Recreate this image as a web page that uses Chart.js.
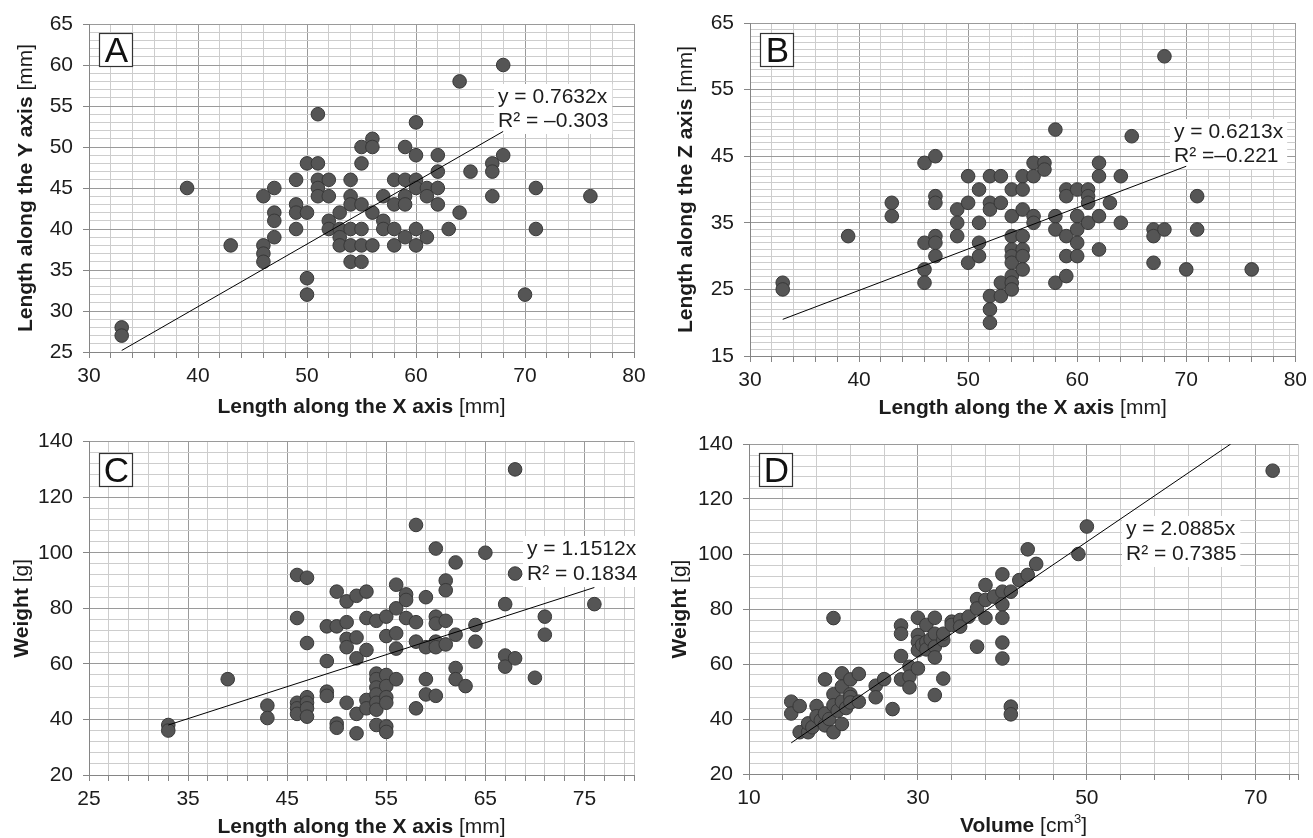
<!DOCTYPE html>
<html><head><meta charset="utf-8">
<script src="https://cdn.jsdelivr.net/npm/chart.js@4.4.1/dist/chart.umd.min.js"></script>
<style>
html,body{margin:0;padding:0;background:#fff;}
#wrap{position:relative;width:1313px;height:838px;overflow:hidden;background:#fff}
.pan{position:absolute}
canvas{display:block}
</style></head><body>
<div id="wrap">
<div class="pan" style="left:0;top:0;"><canvas id="cA" width="656" height="419"></canvas></div>
<div class="pan" style="left:656px;top:0;"><canvas id="cB" width="657" height="419"></canvas></div>
<div class="pan" style="left:0;top:419px;"><canvas id="cC" width="656" height="419"></canvas></div>
<div class="pan" style="left:656px;top:419px;"><canvas id="cD" width="657" height="419"></canvas></div>
</div>
<script>
const FONT = '"Liberation Sans", Arial, Helvetica, sans-serif';

// ---------- Panel A: X length vs Y length ----------
const aX = [33,33,39,43,46,46,46,46,47,47,47,47,49,49,49,49,50,50,50,50,51,51,51,51,51,52,52,52,52,53,53,53,53,54,54,54,54,54,54,55,55,55,55,55,55,56,56,56,56,57,57,57,58,58,58,58,59,59,59,59,59,60,60,60,60,60,60,61,61,61,62,62,62,62,63,64,64,65,67,67,67,68,68,70,71,71,76];
const aY = [28,27,45,38,44,38,37,36,45,42,41,39,46,43,42,40,48,42,34,32,54,48,46,45,44,46,44,41,40,42,40,39,38,46,44,43,40,38,36,50,48,43,40,38,36,51,50,42,38,44,41,40,46,43,40,38,50,46,44,43,39,53,49,46,45,40,38,45,44,39,49,47,45,43,40,58,42,47,48,47,44,60,49,32,45,40,44];
const aSlope = 0.7632;
const aTrendX = [33, 68];
const aEq = ['y = 0.7632x', 'R\u00B2 = \u20130.303'];
const aXLabels = [30,40,50,60,70,80];
const aYLabels = [25,30,35,40,45,50,55,60,65];

// ---------- Panel B: X length vs Z length ----------
const bX = [33,33,39,43,43,46,46,46,46,47,47,47,47,47,47,49,49,49,50,50,50,51,51,51,51,52,52,52,52,52,52,53,53,53,53,54,54,54,54,54,54,54,54,54,55,55,55,55,55,55,55,56,56,56,56,57,57,58,58,58,58,59,59,59,59,59,60,60,60,60,60,61,61,61,61,62,62,62,62,63,64,64,65,67,67,67,68,68,70,71,71,76];
const bZ = [26,25,33,38,36,44,32,28,26,45,39,38,33,32,30,37,35,33,42,38,29,40,35,32,30,42,38,37,24,22,20,42,38,26,24,40,36,33,31,30,29,27,26,25,42,40,37,33,31,30,28,44,42,36,35,44,43,49,36,34,26,40,39,33,30,27,40,36,34,32,30,40,39,38,35,44,42,36,31,38,42,35,48,34,33,29,60,34,28,39,34,28];
const bSlope = 0.6213;
const bTrendX = [33, 70];
const bEq = ['y = 0.6213x', 'R\u00B2 =\u20130.221'];
const bXLabels = [30,40,50,60,70,80];
const bYLabels = [15,25,35,45,55,65];

// ---------- Panel C: X length vs weight ----------
const cX = [33,33,39,43,43,46,46,46,46,46,47,47,47,47,47,47,49,49,49,49,50,50,50,50,51,51,51,51,51,52,52,52,52,52,53,53,53,53,53,54,54,54,54,54,54,54,54,55,55,55,55,55,55,55,55,56,56,56,56,56,57,57,57,58,58,58,58,59,59,59,59,60,60,60,60,60,60,61,61,61,61,62,62,62,62,63,64,64,65,67,67,67,68,68,68,70,71,71,76];
const cW = [38,36,54.5,45,40.5,92,76.5,46,44,42,91,67.5,48,46,44,41,73.5,61,50,48.5,86,73.5,38.5,37,82.5,75,69,66,46,84.5,69.5,62,42,35,86,76.5,65,47,44,75.5,56.5,54.5,51.5,49,46,43.5,38,77,70,56,52,48,46,37.5,35.5,88.5,80,71,65.5,54.5,85,83,76.5,110,75,68,44,84,66,54.5,49,101.5,77,74.5,68,66,48.5,90,86.5,75.5,67,96.5,70.5,58.5,54.5,52,74,68,100,81.5,63,59,130,92.5,62,55,77,70.5,81.5];
const cSlope = 1.1512;
const cTrendX = [33, 76];
const cEq = ['y = 1.1512x', 'R\u00B2 = 0.1834'];
const cXLabels = [25,35,45,55,65,75];
const cYLabels = [20,40,60,80,100,120,140];

// ---------- Panel D: volume vs weight ----------
const dV = [15,15,16,16,17,17,17.5,18,18,18.5,19,19,19,19.5,20,20,20,20,20.5,21,21,21,21,21.5,22,22,22,22,23,23,25,25,26,27,28,28,28,28,29,29,29,30,30,30,30,30,30.5,31,31,31,31.5,32,32,32,32,32,33,33,33,34,34,35,35,36,37,37,37,38,38,38,39,40,40,40,40,40,40,41,41,41,42,43,43,44,49,50,72];
const dW = [46.3,42,44.7,35.2,35.2,38.4,37,44.7,41,39.5,42,37.7,54.4,40,76.7,49,45,35.2,43,56.6,51.8,46.3,38.2,44,54.4,49,48,46,56.4,46.3,52.1,47.9,54.5,43.6,74,71,62.9,54.4,59,55.4,51.5,76.8,70.5,68,65,58.4,67,74.2,68,65.3,69,76.8,71,66.3,62.4,48.7,68.7,71,54.7,75.4,74.2,76,73.6,77.2,83.6,80.2,66.3,88.7,83.3,76.8,84.5,92.6,86.3,81.7,76.8,67.8,62,86.3,44.5,41.7,90.5,101.7,92.4,96.4,100,110,130.3];
const dSlope = 2.0885;
const dTrendX = [15, 140 / 2.0885];
const dEq = ['y = 2.0885x', 'R\u00B2 = 0.7385'];
const dXLabels = [10,30,50,70];
const dYLabels = [20,40,60,80,100,120,140];

const MAJ = '#9a9a9a';
const MIN = '#cdcdcd';
const AXC = '#858585';
const TXT = '#1c1c1c';
const FS = 21;

function steps(a, b, s) {
  const t = [];
  for (let v = a; v <= b + 1e-9; v += s) t.push(Math.round(v * 1000) / 1000);
  if (t[t.length - 1] < b) t.push(b);
  return t;
}

function drawSegs(ctx, segs, cx, cy, rotate, size) {
  ctx.save();
  ctx.translate(cx, cy);
  if (rotate) ctx.rotate(-Math.PI / 2);
  const fontOf = s => (s.bold ? 'bold ' : '') + (s.sup ? Math.round(size * 0.62) : size) + 'px ' + FONT;
  let total = 0;
  segs.forEach(s => { ctx.font = fontOf(s); s.w = ctx.measureText(s.t).width; total += s.w; });
  let x = -total / 2;
  ctx.textBaseline = 'middle'; ctx.textAlign = 'left'; ctx.fillStyle = TXT;
  segs.forEach(s => { ctx.font = fontOf(s); ctx.fillText(s.t, x, s.sup ? -7 : 0); x += s.w; });
  ctx.restore();
}

function makePanel(cfg) {
  const canvas = document.getElementById(cfg.id);
  const W = canvas.width, H = canvas.height, A = cfg.area;
  const pts = cfg.xs.map((x, i) => ({ x: x, y: cfg.ys[i] }));
  const trend = cfg.trendX.map(x => ({ x: x, y: cfg.slope * x }));
  const xt = steps(cfg.xMin, cfg.xMax, cfg.xStep);
  const yt = steps(cfg.yMin, cfg.yMax, cfg.yStep);
  const deco = {
    id: 'deco' + cfg.id,
    beforeDatasetsDraw(chart) {
      const ctx = chart.ctx, e = cfg.eq;
      ctx.save();
      ctx.font = FS + 'px ' + FONT;
      const w = Math.max(...e.lines.map(l => ctx.measureText(l).width));
      ctx.fillStyle = '#fff';
      ctx.fillRect(e.x - 4, e.y - 13, w + 8, e.gap * (e.lines.length - 1) + 26);
      ctx.fillStyle = TXT; ctx.textBaseline = 'middle'; ctx.textAlign = 'left';
      e.lines.forEach((l, i) => ctx.fillText(l, e.x, e.y + i * e.gap));
      ctx.restore();
    },
    afterDraw(chart) {
      const ctx = chart.ctx, L = cfg.letter;
      ctx.save();
      ctx.fillStyle = '#fff';
      ctx.fillRect(L.x, L.y, 34, 34);
      ctx.strokeStyle = '#333'; ctx.lineWidth = 1.2;
      ctx.strokeRect(L.x + 0.5, L.y + 0.5, 33, 33);
      ctx.fillStyle = '#111'; ctx.font = '35px ' + FONT;
      ctx.textAlign = 'center'; ctx.textBaseline = 'middle';
      ctx.fillText(L.t, L.x + 17.5, L.y + 19);
      ctx.restore();
      const ca = chart.chartArea;
      drawSegs(ctx, cfg.xTitle, (ca.left + ca.right) / 2, cfg.xTitleY, false, FS);
      drawSegs(ctx, cfg.yTitle, cfg.yTitleX, (ca.top + ca.bottom) / 2, true, FS);
    }
  };
  const tickFont = { family: FONT, size: FS };
  return new Chart(canvas, {
    type: 'scatter',
    data: {
      datasets: [
        { data: trend, showLine: true, pointRadius: 0, borderColor: '#000', borderWidth: 1, order: 0 },
        { data: pts, pointRadius: 6.8, backgroundColor: '#555555', borderColor: '#383838', borderWidth: 1, order: 1 }
      ]
    },
    options: {
      responsive: false, animation: false, events: [],
      layout: { padding: { left: 0, top: A.t, right: W - A.r, bottom: 0 } },
      plugins: { legend: { display: false }, tooltip: { enabled: false } },
      scales: {
        x: {
          type: 'linear', min: cfg.xMin, max: cfg.xMax,
          afterBuildTicks: s => { s.ticks = xt.map(v => ({ value: v })); },
          afterFit: s => { s.height = H - A.b; },
          ticks: { autoSkip: false, maxRotation: 0, minRotation: 0, padding: 6, color: TXT, font: tickFont,
            callback: v => cfg.xLabels.includes(v) ? String(v) : '' },
          grid: { color: c => (c.tick && cfg.xLabels.includes(c.tick.value)) ? MAJ : MIN, tickLength: 6, tickColor: AXC, lineWidth: 1 },
          border: { color: AXC, width: 1 }
        },
        y: {
          type: 'linear', min: cfg.yMin, max: cfg.yMax,
          afterBuildTicks: s => { s.ticks = yt.map(v => ({ value: v })); },
          afterFit: s => { s.width = A.l; },
          ticks: { autoSkip: false, padding: 10, color: TXT, font: tickFont,
            callback: v => cfg.yLabels.includes(v) ? String(v) : '' },
          grid: { color: c => (c.tick && cfg.yLabels.includes(c.tick.value)) ? MAJ : MIN, tickLength: 6,
            tickColor: c => (c.tick && cfg.yLabels.includes(c.tick.value)) ? AXC : 'rgba(0,0,0,0)', lineWidth: 1 },
          border: { color: AXC, width: 1 }
        }
      }
    },
    plugins: [deco]
  });
}

const mmX = [{ t: 'Length along the X axis', bold: true }, { t: ' [mm]' }];

makePanel({ id: 'cA', xs: aX, ys: aY, slope: aSlope, trendX: aTrendX,
  xMin: 30, xMax: 80, xStep: 2, yMin: 25, yMax: 65, yStep: 1, xLabels: aXLabels, yLabels: aYLabels,
  area: { l: 89, t: 24, r: 634, b: 352 },
  eq: { x: 498, y: 97, gap: 24, lines: aEq }, letter: { x: 99, y: 33, t: 'A' },
  xTitle: mmX, xTitleY: 407, yTitle: [{ t: 'Length along the Y axis', bold: true }, { t: ' [mm]' }], yTitleX: 26 });

makePanel({ id: 'cB', xs: bX, ys: bZ, slope: bSlope, trendX: bTrendX,
  xMin: 30, xMax: 80, xStep: 2, yMin: 15, yMax: 65, yStep: 1, xLabels: bXLabels, yLabels: bYLabels,
  area: { l: 94, t: 23, r: 643, b: 356 },
  eq: { x: 518, y: 132, gap: 24, lines: bEq }, letter: { x: 104, y: 33, t: 'B' },
  xTitle: mmX, xTitleY: 408, yTitle: [{ t: 'Length along the Z axis', bold: true }, { t: ' [mm]' }], yTitleX: 30 });

makePanel({ id: 'cC', xs: cX, ys: cW, slope: cSlope, trendX: cTrendX,
  xMin: 25, xMax: 80, xStep: 2, yMin: 20, yMax: 140, yStep: 4, xLabels: cXLabels, yLabels: cYLabels,
  area: { l: 89, t: 21, r: 634, b: 356 },
  eq: { x: 527, y: 130, gap: 25, lines: cEq }, letter: { x: 99, y: 34, t: 'C' },
  xTitle: mmX, xTitleY: 408, yTitle: [{ t: 'Weight', bold: true }, { t: ' [g]' }], yTitleX: 22 });

makePanel({ id: 'cD', xs: dV, ys: dW, slope: dSlope, trendX: dTrendX,
  xMin: 10, xMax: 75, xStep: 4, yMin: 20, yMax: 140, yStep: 4, xLabels: dXLabels, yLabels: dYLabels,
  area: { l: 93, t: 25, r: 642, b: 355 },
  eq: { x: 470, y: 110, gap: 25, lines: dEq }, letter: { x: 103, y: 34, t: 'D' },
  xTitle: [{ t: 'Volume', bold: true }, { t: ' [cm' }, { t: '3', sup: true }, { t: ']' }], xTitleY: 407,
  yTitle: [{ t: 'Weight', bold: true }, { t: ' [g]' }], yTitleX: 24 });
</script>
</body></html>
